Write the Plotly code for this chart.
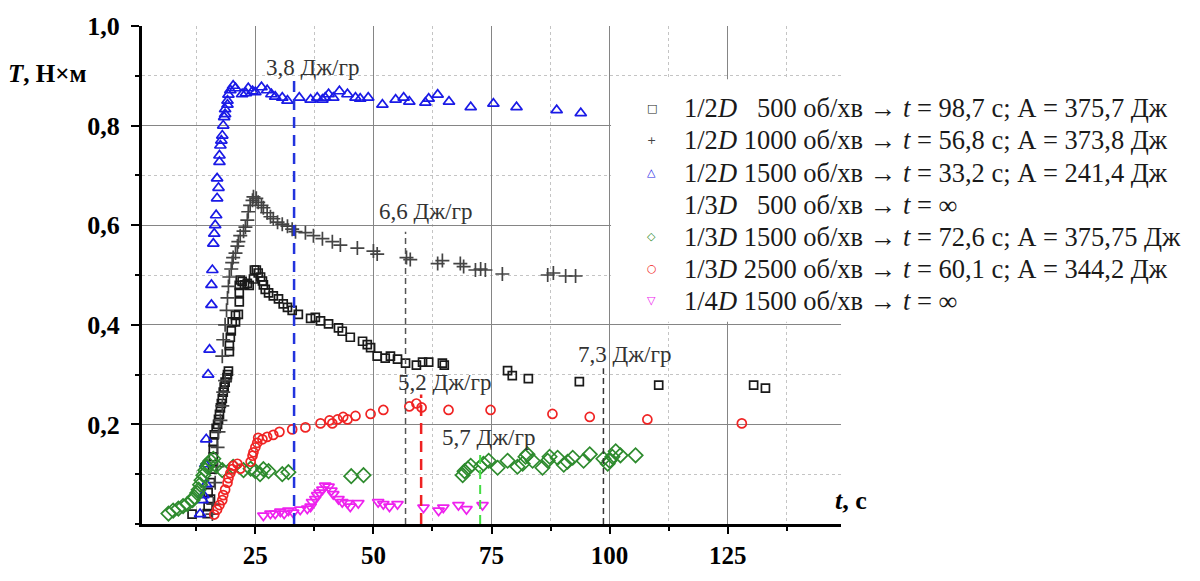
import plotly.graph_objects as go

# ---- measured series: time t (s) and torque T (N·m) ----
sq_t = [11.6, 14.8, 15.0, 15.5, 15.0, 15.5, 15.9, 16.1, 16.1, 16.1, 16.3, 16.7, 17.0, 17.2, 17.4, 17.6, 17.8, 18.0,
        18.2, 18.4, 18.6, 19.0, 19.1, 19.3, 19.5, 19.5, 19.7, 19.9, 20.1, 20.8, 20.8, 21.4, 21.6, 21.6, 21.6, 22.2,
        21.8, 22.7, 23.3, 23.7, 24.6, 24.8, 25.2, 25.6, 26.1, 26.5, 26.7, 27.1, 27.8, 28.8, 29.9, 30.9, 31.8, 32.8,
        34.1, 36.7, 37.7, 38.8, 40.5, 42.6, 43.4, 45.1, 47.7, 48.7, 49.4, 50.8, 52.5, 53.6, 55.1, 56.8, 59.1, 60.4,
        61.7, 64.6, 65.0, 78.4, 79.4, 82.8, 93.6, 110.4, 130.5, 133.0]
sq_T = [0.020, 0.021, 0.035, 0.050, 0.063, 0.083, 0.110, 0.135, 0.150, 0.165, 0.179, 0.192, 0.200, 0.210, 0.220,
        0.233, 0.242, 0.252, 0.265, 0.275, 0.285, 0.294, 0.300, 0.307, 0.346, 0.358, 0.375, 0.388, 0.406, 0.406,
        0.419, 0.421, 0.446, 0.465, 0.479, 0.487, 0.490, 0.480, 0.483, 0.479, 0.492, 0.510, 0.510, 0.504, 0.496,
        0.488, 0.480, 0.471, 0.464, 0.458, 0.452, 0.442, 0.435, 0.429, 0.421, 0.413, 0.415, 0.408, 0.402, 0.394,
        0.387, 0.375, 0.367, 0.360, 0.354, 0.337, 0.333, 0.337, 0.331, 0.323, 0.319, 0.325, 0.325, 0.323, 0.319,
        0.308, 0.298, 0.292, 0.286, 0.279, 0.279, 0.273]

cr_t = [15.9, 16.1, 16.5, 17.0, 17.0, 17.2, 17.6, 18.0, 18.2, 18.6, 18.0, 18.2, 18.6, 18.9, 19.1, 19.3, 19.5, 19.9,
        20.1, 20.3, 20.8, 21.2, 21.4, 21.8, 22.5, 22.9, 23.3, 23.5, 23.9, 24.4, 24.6, 25.2, 25.6, 26.3, 26.7, 27.5,
        28.2, 28.8, 29.7, 30.7, 31.8, 32.8, 33.5, 35.6, 37.3, 39.2, 41.3, 43.0, 46.6, 50.0, 50.8, 57.0, 57.8, 63.6,
        64.6, 68.4, 69.1, 71.6, 72.7, 73.7, 77.3, 86.9, 88.1, 90.7, 92.8]
cr_T = [0.020, 0.040, 0.083, 0.115, 0.154, 0.185, 0.208, 0.237, 0.265, 0.288, 0.337, 0.370, 0.400, 0.429, 0.454,
        0.477, 0.496, 0.512, 0.525, 0.535, 0.544, 0.558, 0.567, 0.579, 0.588, 0.596, 0.610, 0.627, 0.640, 0.650,
        0.657, 0.654, 0.646, 0.640, 0.635, 0.625, 0.617, 0.613, 0.606, 0.602, 0.598, 0.592, 0.587, 0.585, 0.579,
        0.573, 0.567, 0.560, 0.554, 0.548, 0.542, 0.535, 0.531, 0.523, 0.529, 0.523, 0.517, 0.510, 0.512, 0.510,
        0.502, 0.500, 0.504, 0.498, 0.498]

tu_t = [13.3, 13.8, 14.0, 14.6, 14.4, 14.6, 15.0, 15.3, 15.7, 15.7, 15.9, 16.1, 16.3, 16.5, 16.7, 16.9, 17.2, 16.9,
        17.4, 17.4, 17.6, 17.8, 18.0, 18.2, 18.4, 18.6, 18.6, 19.1, 19.1, 19.3, 19.7, 20.3, 20.8, 22.2, 23.0, 23.5,
        24.4, 25.0, 26.3, 27.5, 28.4, 29.2, 30.7, 31.8, 34.3, 36.7, 38.1, 39.2, 39.8, 40.5, 41.5, 42.8, 44.5, 46.2,
        47.2, 48.9, 51.9, 54.7, 56.4, 57.6, 61.0, 61.7, 63.6, 66.0, 70.6, 75.4, 80.3, 88.8, 93.9]
tu_T = [0.020, 0.048, 0.058, 0.080, 0.120, 0.170, 0.300, 0.350, 0.440, 0.480, 0.510, 0.563, 0.583, 0.600, 0.620,
        0.654, 0.675, 0.694, 0.727, 0.740, 0.760, 0.770, 0.780, 0.800, 0.817, 0.823, 0.833, 0.842, 0.850, 0.862,
        0.871, 0.880, 0.875, 0.863, 0.865, 0.875, 0.869, 0.867, 0.877, 0.871, 0.863, 0.858, 0.856, 0.850, 0.856,
        0.852, 0.856, 0.852, 0.856, 0.863, 0.856, 0.869, 0.863, 0.856, 0.854, 0.856, 0.842, 0.852, 0.856, 0.848,
        0.846, 0.854, 0.862, 0.848, 0.837, 0.844, 0.837, 0.831, 0.825]

di_t = [6.6, 7.6, 8.7, 9.7, 10.6, 11.7, 12.1, 12.7, 13.0, 13.3, 13.6, 14.0, 14.4, 14.8, 15.0, 15.5, 16.1, 16.7, 18.0,
        20.3, 22.5, 24.0, 25.0, 26.0, 26.7, 27.8, 30.7, 32.0, 45.3, 47.9, 68.9, 69.3, 70.0, 70.6, 72.7, 73.3, 74.4,
        76.3, 78.4, 80.5, 81.6, 82.2, 82.6, 83.7, 85.8, 86.9, 87.3, 89.0, 90.3, 91.1, 92.2, 94.5, 95.8, 98.7, 99.6,
        100.0, 100.6, 101.3, 102.3, 105.5]
di_T = [0.021, 0.027, 0.031, 0.036, 0.040, 0.048, 0.054, 0.062, 0.069, 0.079, 0.088, 0.098, 0.108, 0.115, 0.121,
        0.127, 0.131, 0.117, 0.108, 0.115, 0.108, 0.111, 0.106, 0.100, 0.110, 0.106, 0.100, 0.104, 0.096, 0.098,
        0.098, 0.106, 0.111, 0.117, 0.115, 0.121, 0.127, 0.113, 0.127, 0.115, 0.121, 0.135, 0.140, 0.127, 0.113,
        0.127, 0.135, 0.133, 0.119, 0.125, 0.133, 0.127, 0.140, 0.131, 0.121, 0.127, 0.135, 0.146, 0.138, 0.138]

ci_t = [16.3, 16.9, 17.4, 18.0, 18.2, 18.6, 19.1, 19.3, 19.7, 20.1, 20.3, 21.2, 21.8, 24.0, 24.4, 24.6, 25.0, 25.4,
        25.6, 26.5, 27.5, 28.8, 30.1, 32.8, 35.6, 38.8, 40.7, 41.3, 42.4, 43.6, 44.5, 46.2, 49.4, 52.1, 57.6, 59.1,
        60.2, 65.9, 74.8, 87.9, 95.8, 108.0, 128.0]
ci_T = [0.019, 0.029, 0.038, 0.048, 0.058, 0.069, 0.083, 0.092, 0.102, 0.110, 0.117, 0.121, 0.111, 0.125, 0.137,
        0.144, 0.154, 0.163, 0.173, 0.170, 0.175, 0.179, 0.185, 0.190, 0.194, 0.202, 0.208, 0.202, 0.210, 0.215,
        0.210, 0.217, 0.221, 0.229, 0.236, 0.242, 0.234, 0.229, 0.229, 0.221, 0.215, 0.210, 0.202]

td_t = [26.7, 28.2, 29.2, 30.3, 31.1, 32.0, 33.0, 34.5, 36.0, 36.7, 37.0, 37.7, 38.1, 38.6, 39.2, 39.8, 40.5, 41.1,
        41.5, 42.6, 43.4, 44.5, 45.1, 46.8, 51.0, 52.1, 53.4, 55.1, 60.6, 63.8, 64.8, 68.0, 69.7, 73.1]
td_T = [0.017, 0.021, 0.021, 0.025, 0.021, 0.027, 0.023, 0.029, 0.031, 0.035, 0.044, 0.050, 0.058, 0.063, 0.069,
        0.077, 0.075, 0.067, 0.060, 0.050, 0.044, 0.042, 0.035, 0.042, 0.044, 0.040, 0.035, 0.040, 0.033, 0.027,
        0.033, 0.038, 0.030, 0.038]

# ---- failure times with specific energy labels ----
fail_t = [33.2, 56.8, 60.1, 98.7, 72.6]
fail_top = [0.90, 0.587, 0.26, 0.313, 0.15]
fail_label = ["3,8 Дж/гр", "6,6 Дж/гр", "5,2 Дж/гр", "7,3 Дж/гр", "5,7 Дж/гр"]
label_t = [37.1, 61.0, 65.1, 103.2, 74.4]
label_T = [0.917, 0.627, 0.285, 0.34, 0.173]

# ---- axis ticks ----
x_ticks = [25, 50, 75, 100, 125]
x_ticktext = ["25", "50", "75", "100", "125"]
y_ticks = [0.2, 0.4, 0.6, 0.8, 1.0]
y_ticktext = ["0,2", "0,4", "0,6", "0,8", "1,0"]

# ---- legend rows ----
legend_names = [
    "1/2<i>D</i>\u00a0\u00a0\u00a0500 об/хв → <i>t</i> = 98,7 с; А = 375,7 Дж",
    "1/2<i>D</i> 1000 об/хв → <i>t</i> = 56,8 с; А = 373,8 Дж",
    "1/2<i>D</i> 1500 об/хв → <i>t</i> = 33,2 с; А = 241,4 Дж",
    "1/3<i>D</i>\u00a0\u00a0\u00a0500 об/хв → <i>t</i> = ∞",
    "1/3<i>D</i> 1500 об/хв → <i>t</i> = 72,6 с; А = 375,75 Дж",
    "1/3<i>D</i> 2500 об/хв → <i>t</i> = 60,1 с; А = 344,2 Дж",
    "1/4<i>D</i> 1500 об/хв → <i>t</i> = ∞",
]
legend_glyphs = ["□", "+", "△", "", "◇", "○", "▽"]

C_SQ = "#1a1a1a"
C_CR = "#444444"
C_TU = "#1a1ae6"
C_DI = "#2e8b2e"
C_CI = "#f02424"
C_TD = "#ee22ee"
legend_colors = [C_SQ, C_CR, C_TU, "#ffffff", C_DI, C_CI, C_TD]

SERIF = "Liberation Serif, Times New Roman, serif"

fig = go.Figure()

series = [
    (sq_t, sq_T, "square-open", 8, C_SQ),
    (cr_t, cr_T, "cross-thin-open", 10, C_CR),
    (tu_t, tu_T, "triangle-up-open", 10, C_TU),
    (di_t, di_T, "diamond-open", 11, C_DI),
    (ci_t, ci_T, "circle-open", 9, C_CI),
    (td_t, td_T, "triangle-down-open", 10, C_TD),
]
for xs, ys, sym, size, col in series:
    fig.add_trace(go.Scatter(
        x=xs, y=ys, mode="markers", showlegend=False,
        marker=dict(symbol=sym, size=size, color=col, line=dict(color=col, width=1.7)),
    ))

# vertical dashed markers at the failure times
fail_style = [
    dict(color="#2233dd", width=2.5, dash="11px,7px"),
    dict(color="#555555", width=1.5, dash="6px,4px"),
    dict(color="#ee2222", width=2.5, dash="11px,7px"),
    dict(color="#333333", width=1.5, dash="6px,4px"),
    dict(color="#44dd44", width=2, dash="9px,6px"),
]
shapes = []
# white panel behind the legend block, covering the grid
shapes.append(dict(type="rect", xref="paper", yref="paper", x0=0.671, x1=1.0, y0=0.406, y1=0.893,
                   fillcolor="white", line=dict(width=0), layer="above"))
for xv, top, st in zip(fail_t, fail_top, fail_style):
    shapes.append(dict(type="line", xref="x", yref="y", x0=xv, x1=xv, y0=0, y1=top, line=st, layer="above"))

annotations = []
for txt, xv, yv in zip(fail_label, label_t, label_T):
    annotations.append(dict(x=xv, y=yv, xref="x", yref="y", text=txt, showarrow=False,
                            xanchor="center", yanchor="middle",
                            font=dict(family=SERIF, size=23, color="#333333")))

# axis titles
annotations.append(dict(x=-0.135, y=0.904, xref="paper", yref="paper", showarrow=False,
                        xanchor="center", yanchor="middle",
                        text="<b><i>T</i>, Н×м</b>", font=dict(family=SERIF, size=25, color="black")))
annotations.append(dict(x=1.0143, y=0.048, xref="paper", yref="paper", showarrow=False,
                        xanchor="center", yanchor="middle",
                        text="<b><i>t</i>, с</b>", font=dict(family=SERIF, size=26, color="black")))

# legend rows
row_y0 = 0.8346
row_step = 33.5 / 520
for i, (name, glyph, col) in enumerate(zip(legend_names, legend_glyphs, legend_colors)):
    yv = row_y0 - i * row_step
    annotations.append(dict(x=0.7725, y=yv, xref="paper", yref="paper", xanchor="left", yanchor="middle",
                            showarrow=False, text=name, font=dict(family=SERIF, size=26.5, color="#1a1a1a")))
    if glyph:
        annotations.append(dict(x=0.7296, y=yv, xref="paper", yref="paper", xanchor="center", yanchor="middle",
                                showarrow=False, text=glyph,
                                font=dict(family="DejaVu Sans", size=11, color=col)))

fig.update_layout(
    width=1200, height=581,
    margin=dict(l=142, r=359, t=18, b=43),
    paper_bgcolor="white", plot_bgcolor="white",
    showlegend=False,
    shapes=shapes, annotations=annotations,
    xaxis=dict(
        range=[1, 149], tickmode="array", tickvals=x_ticks, ticktext=x_ticktext,
        showline=True, linecolor="black", linewidth=3, zeroline=False,
        ticks="outside", ticklen=7, tickwidth=2, tickcolor="black",
        showgrid=True, gridcolor="#858585", gridwidth=1.2,
        tickfont=dict(family=SERIF, size=25, color="black", weight="bold"),
        minor=dict(dtick=12.5, tick0=0, ticks="outside", ticklen=4, tickwidth=1.5, tickcolor="black",
                   showgrid=True, gridcolor="#c4c4c4", griddash="dot", gridwidth=1),
    ),
    yaxis=dict(
        range=[0, 1.0], tickmode="array", tickvals=y_ticks, ticktext=y_ticktext,
        showline=True, linecolor="black", linewidth=3, zeroline=False,
        ticks="outside", ticklen=8, tickwidth=2, tickcolor="black", ticklabelstandoff=6,
        showgrid=True, gridcolor="#858585", gridwidth=1.2,
        tickfont=dict(family=SERIF, size=26, color="black", weight="bold"),
        minor=dict(dtick=0.1, tick0=0, ticks="outside", ticklen=4, tickwidth=1.5, tickcolor="black",
                   showgrid=True, gridcolor="#c4c4c4", griddash="dot", gridwidth=1),
    ),
)

fig.write_html("out.html")
